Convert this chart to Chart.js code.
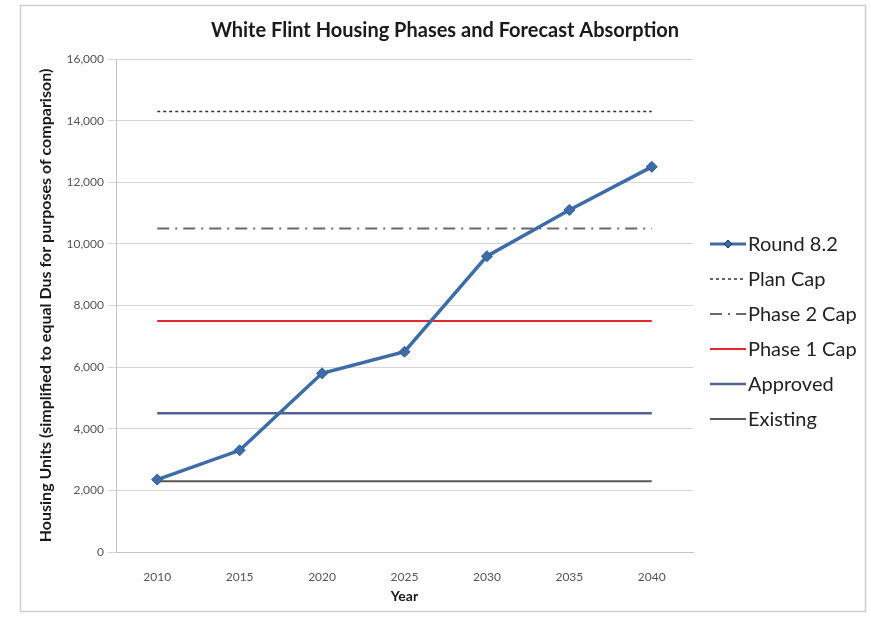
<!DOCTYPE html>
<html>
<head>
<meta charset="utf-8">
<script src="https://cdn.jsdelivr.net/npm/chart.js@4.4.1/dist/chart.umd.min.js"></script>
<style>
  html, body { margin: 0; padding: 0; background: #ffffff; }
  #wrap { width: 871px; height: 617px; }
</style>
</head>
<body>
<div id="wrap"><canvas id="housing"></canvas></div>
<script>
// Data
const years = ['2010', '2015', '2020', '2025', '2030', '2035', '2040'];
const round82 = [2350, 3300, 5800, 6500, 9600, 11100, 12500];
const planCap = [14300, 14300, 14300, 14300, 14300, 14300, 14300];
const phase2Cap = [10500, 10500, 10500, 10500, 10500, 10500, 10500];
const phase1Cap = [7500, 7500, 7500, 7500, 7500, 7500, 7500];
const approved = [4500, 4500, 4500, 4500, 4500, 4500, 4500];
const existing = [2300, 2300, 2300, 2300, 2300, 2300, 2300];
const yTicks = [0, 2000, 4000, 6000, 8000, 10000, 12000, 14000, 16000];

const fontFamily = "Lato, 'Open Sans', sans-serif";
Chart.defaults.font.family = fontFamily;

function flat(label, values, colour, width, dash) {
    return {
        label: label,
        data: values,
        borderColor: colour,
        backgroundColor: colour,
        borderWidth: width,
        borderDash: dash || [],
        pointRadius: 0,
        pointHoverRadius: 0,
        fill: false,
        order: 1
    };
}

const datasets = [
    {
        label: 'Round 8.2',
        data: round82,
        borderColor: '#3d6ca6',
        backgroundColor: '#3d6ca6',
        borderWidth: 3.5,
        pointStyle: 'rectRot',
        pointRadius: 5.5,
        pointBorderWidth: 1,
        pointBorderColor: '#2f5d94',
        pointBackgroundColor: '#3d6ca6',
        fill: false,
        order: 0
    },
    flat('Plan Cap', planCap, '#333333', 1.5, [3, 3]),
    flat('Phase 2 Cap', phase2Cap, '#6a6a6a', 2, [12, 6, 2, 6]),
    flat('Phase 1 Cap', phase1Cap, '#e3262f', 2),
    flat('Approved', approved, '#50628f', 2.5),
    flat('Existing', existing, '#575757', 2)
];

// Frame, title and the line legend on the right
const decorations = {
    id: 'decorations',
    beforeDraw(chart) {
        const ctx = chart.ctx;
        ctx.save();
        ctx.fillStyle = '#ffffff';
        ctx.fillRect(0, 0, chart.width, chart.height);
        ctx.strokeStyle = '#cfcfcf';
        ctx.lineWidth = 1.5;
        ctx.strokeRect(20.5, 5.5, 845, 606);
        ctx.restore();
    },
    afterDraw(chart) {
        const ctx = chart.ctx;
        ctx.save();
        ctx.fillStyle = '#1a1a1a';
        ctx.font = 'bold 20px ' + fontFamily;
        ctx.textAlign = 'center';
        ctx.textBaseline = 'middle';
        ctx.fillText('White Flint Housing Phases and Forecast Absorption', 445, 31);

        const x0 = 710, x1 = 746;
        let y = 244;
        ctx.font = '20px ' + fontFamily;
        ctx.textAlign = 'left';
        chart.data.datasets.forEach(ds => {
            ctx.save();
            ctx.strokeStyle = ds.borderColor;
            ctx.lineWidth = Math.min(ds.borderWidth, 3);
            ctx.setLineDash(ds.borderDash || []);
            ctx.beginPath();
            ctx.moveTo(x0, y);
            ctx.lineTo(x1, y);
            ctx.stroke();
            ctx.restore();
            if (ds.pointStyle) {
                Chart.helpers.drawPoint(ctx, {
                    pointStyle: ds.pointStyle,
                    radius: 4,
                    borderWidth: 1
                }, (x0 + x1) / 2, y);
                ctx.fillStyle = ds.pointBackgroundColor;
                ctx.fill();
            }
            ctx.fillStyle = '#222222';
            ctx.fillText(ds.label, x1 + 2, y + 1);
            y += 35;
        });
        ctx.restore();
    }
};

new Chart(document.getElementById('housing'), {
    type: 'line',
    data: { labels: years, datasets: datasets },
    options: {
        responsive: true,
        maintainAspectRatio: false,
        animation: false,
        layout: { padding: { top: 59, right: 178, left: 0, bottom: 0 } },
        plugins: {
            legend: { display: false },
            title: { display: false },
            tooltip: { enabled: false }
        },
        scales: {
            x: {
                offset: true,
                afterFit: s => { s.height = 65; },
                grid: { display: false },
                border: { color: '#c4c4c4' },
                ticks: { color: '#555555', font: { size: 12 }, padding: 10 },
                title: {
                    display: true,
                    text: 'Year',
                    color: '#1a1a1a',
                    font: { size: 14, weight: 'bold' },
                    padding: { top: 4, bottom: 12 }
                }
            },
            y: {
                min: 0,
                max: 16000,
                afterFit: s => { s.width = 116; },
                afterBuildTicks: s => { s.ticks = yTicks.map(v => ({ value: v })); },
                grid: { color: '#d6d6d6', tickLength: 8, tickColor: '#d6d6d6' },
                border: { color: '#c4c4c4' },
                ticks: {
                    color: '#555555',
                    font: { size: 12 },
                    padding: 4,
                    callback: v => v.toLocaleString('en-US')
                },
                title: {
                    display: true,
                    text: 'Housing Units (simplified to equal Dus for purposes of comparison)',
                    color: '#1a1a1a',
                    font: { size: 16, weight: 'bold' },
                    padding: { top: 36, bottom: 0 }
                }
            }
        }
    },
    plugins: [decorations]
});
</script>
</body>
</html>
